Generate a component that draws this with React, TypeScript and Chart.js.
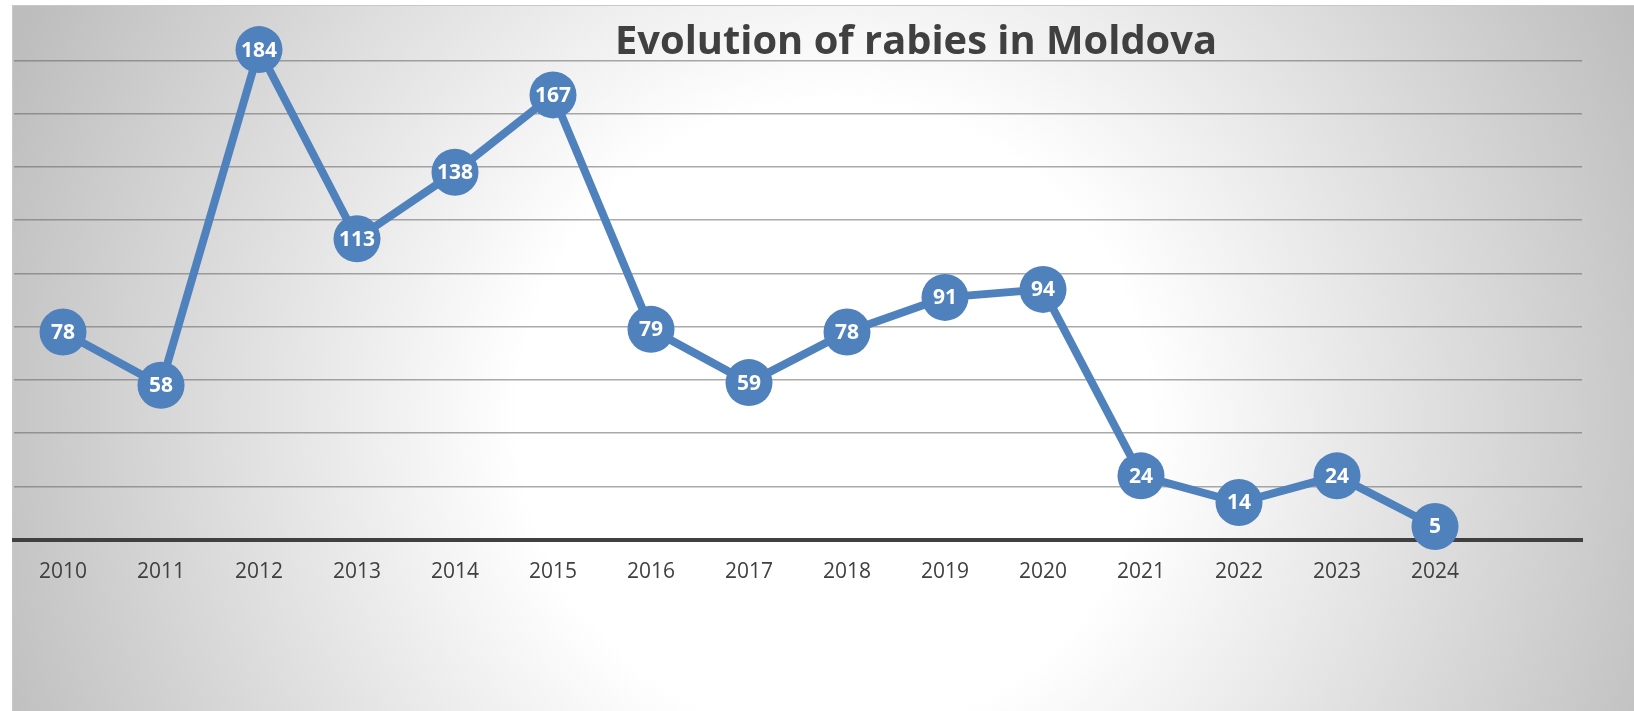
import React, { useEffect, useRef } from "react";
import { Chart, registerables } from "chart.js";

Chart.register(...registerables);

const years = ["2010", "2011", "2012", "2013", "2014", "2015", "2016", "2017", "2018", "2019", "2020", "2021", "2022", "2023", "2024", ""];
const cases = [78, 58, 184, 113, 138, 167, 79, 59, 78, 91, 94, 24, 14, 24, 5, null];
const yMin = 0;
const yMax = 200;
const yStep = 20;
const chartTitle = "Evolution of rabies in Moldova";

const W = 1634;
const H = 711;
const BLUE = "#4F81BD";
const DARK = "#404040";

const backgroundPlugin = {
  id: "panelBackground",
  beforeDraw(chart: any) {
    const ctx = chart.ctx as CanvasRenderingContext2D;
    ctx.save();
    ctx.fillStyle = "#ffffff";
    ctx.fillRect(0, 0, chart.width, chart.height);
    const cx = 834;
    const cy = 419;
    const g = ctx.createRadialGradient(cx, cy, 0, cx, cy, 900);
    g.addColorStop(0, "#ffffff");
    g.addColorStop(0.35, "#ffffff");
    g.addColorStop(1, "#bdbdbd");
    ctx.fillStyle = g;
    ctx.fillRect(12, 5, chart.width - 12, chart.height - 5);
    ctx.strokeStyle = "#c8c8c8";
    ctx.lineWidth = 1;
    ctx.beginPath();
    ctx.moveTo(12.5, chart.height);
    ctx.lineTo(12.5, 5.5);
    ctx.lineTo(chart.width, 5.5);
    ctx.stroke();
    ctx.restore();
  },
};

const valueLabelPlugin = {
  id: "valueLabels",
  afterDatasetsDraw(chart: any) {
    const ctx = chart.ctx as CanvasRenderingContext2D;
    const meta = chart.getDatasetMeta(0);
    const data = chart.data.datasets[0].data;
    ctx.save();
    ctx.fillStyle = "#ffffff";
    ctx.font = "bold 21px 'Open Sans'";
    ctx.textAlign = "center";
    ctx.textBaseline = "middle";
    meta.data.forEach((pt: any, i: number) => {
      const v = data[i];
      if (v === null || v === undefined) return;
      ctx.fillText(String(v), pt.x, pt.y + 1);
    });
    ctx.restore();
  },
};

const titlePlugin = {
  id: "overlayTitle",
  afterDraw(chart: any) {
    const ctx = chart.ctx as CanvasRenderingContext2D;
    ctx.save();
    ctx.fillStyle = DARK;
    ctx.font = "bold 39px 'Open Sans'";
    ctx.textBaseline = "alphabetic";
    ctx.textAlign = "center";
    const targetW = 602;
    const w = ctx.measureText(chartTitle).width;
    const sx = targetW / w;
    ctx.translate(916, 54);
    ctx.scale(sx, 1);
    ctx.fillText(chartTitle, 0, 0);
    ctx.restore();
  },
};

export default function App() {
  const ref = useRef<HTMLCanvasElement | null>(null);

  useEffect(() => {
    if (!ref.current) return;
    const chart = new Chart(ref.current, {
      type: "line",
      data: {
        labels: years,
        datasets: [
          {
            data: cases,
            borderColor: BLUE,
            backgroundColor: BLUE,
            borderWidth: 8,
            pointRadius: 23.5,
            pointHoverRadius: 23.5,
            pointBackgroundColor: BLUE,
            pointBorderWidth: 0,
            tension: 0,
            clip: false as any,
            spanGaps: false,
          },
        ],
      },
      options: {
        responsive: false,
        animation: false,
        events: [],
        layout: { autoPadding: false, padding: { left: 14, right: 52, top: 7, bottom: 106 } },
        plugins: {
          legend: { display: false },
          title: { display: false },
          tooltip: { enabled: false },
        },
        scales: {
          x: {
            offset: true,
            grid: { display: false, drawTicks: false },
            border: { display: true, color: DARK, width: 4 },
            ticks: {
              color: DARK,
              font: { family: "'Open Sans'", size: 21 },
              padding: 20,
              autoSkip: false,
              maxRotation: 0,
            },
          },
          y: {
            min: yMin,
            max: yMax,
            ticks: { display: false, stepSize: yStep },
            grid: {
              drawTicks: false,
              lineWidth: 1.5,
              color: (c: any) =>
                c.tick && (c.tick.value === yMin || c.tick.value === yMax)
                  ? "rgba(0,0,0,0)"
                  : "rgba(100,100,100,0.55)",
            },
            border: { display: false },
          },
        },
      },
      plugins: [backgroundPlugin, valueLabelPlugin, titlePlugin],
    });
    return () => chart.destroy();
  }, []);

  return (
    <div style={{ position: "fixed", left: 0, top: 0, width: W, height: H }}>
      <canvas ref={ref} width={W} height={H} style={{ width: W, height: H, display: "block" }} />
    </div>
  );
}
